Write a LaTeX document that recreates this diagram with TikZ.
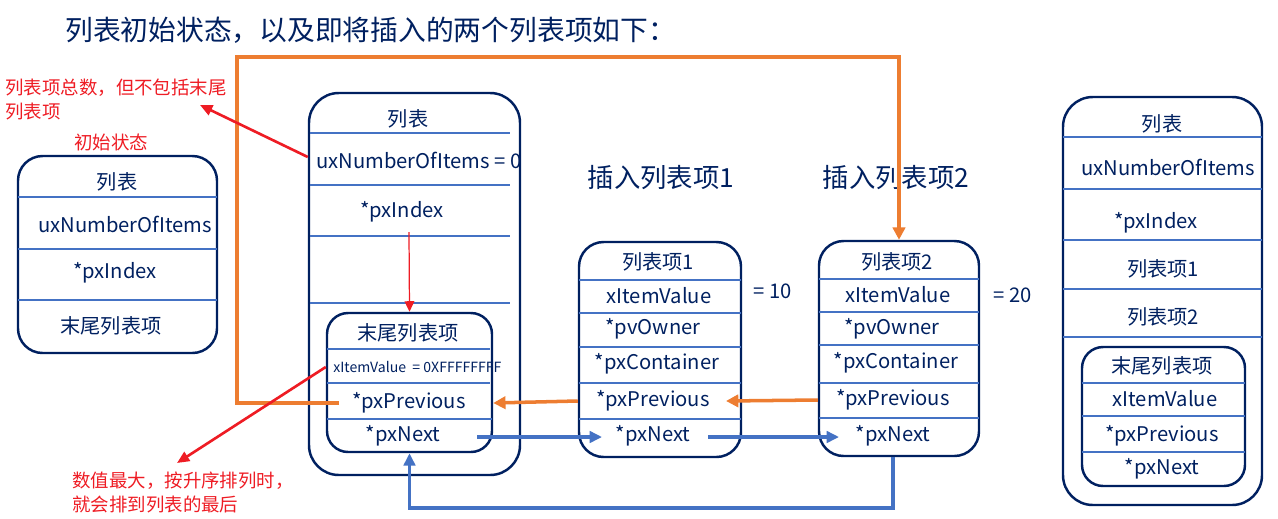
\documentclass[tikz,border=0pt]{standalone}
\usepackage{fontspec}
\setmainfont{Noto Sans CJK SC}
\usetikzlibrary{fit,arrows.meta}
\definecolor{navy}{HTML}{002060}
\definecolor{sepblue}{HTML}{4472C4}
\definecolor{orng}{HTML}{ED7D31}
\definecolor{annred}{HTML}{EE1C24}
\begin{document}
\begin{tikzpicture}[x=0.02cm,y=-0.02cm,
  box/.style={draw=navy,line width=1.4pt,rounded corners=#1,inner sep=0pt},
  sepline/.style={draw=sepblue,line width=0.6pt},
  t/.style={text=navy,font=\fontsize{11.5}{14}\selectfont,inner sep=0pt},
  tsmall/.style={text=navy,font=\fontsize{8}{10}\selectfont,inner sep=0pt},
  thead/.style={text=navy,font=\fontsize{15}{18}\selectfont,inner sep=0pt},
  ann/.style={text=annred,font=\fontsize{10.5}{13}\selectfont,inner sep=0pt},
  oline/.style={draw=orng,line width=2pt,-{Triangle[length=7pt,width=7pt]}},
  bline/.style={draw=sepblue,line width=2pt,-{Triangle[length=7pt,width=6.5pt]}},
  rline/.style={draw=annred,line width=1.5pt,-{Triangle[length=7pt,width=6pt]}},
  rthin/.style={draw=annred,line width=0.7pt,-{Triangle[length=6pt,width=5.5pt]}}]
\useasboundingbox (0,0) rectangle (1278,518);

% title and headings
\node[thead,font=\fontsize{15.8}{18}\selectfont,anchor=west] (title) at (65,30) {列表初始状态，以及即将插入的两个列表项如下：};
\node[thead] (ins1) at (661,178) {插入列表项1};
\node[thead] (ins2) at (896,178) {插入列表项2};

% annotations
\node[ann,anchor=west] (a1a) at (5,88) {列表项总数，但不包括末尾};
\node[ann,anchor=west] (a1b) at (5,112) {列表项};
\node[ann] (a2) at (111,142) {初始状态};
\node[ann,anchor=west] (a3a) at (72,481) {数值最大，按升序排列时，};
\node[ann,anchor=west] (a3b) at (72,504) {就会排到列表的最后};

% ---------- initial list (left) ----------
\node[box=14pt,fit={(18,156) (217,353)}] (L0) {};
\draw[sepline] (18,197) -- (217,197);
\draw[sepline] (18,249) -- (217,249);
\draw[sepline] (18,300) -- (217,300);
\node[t] (l0h) at (117,182) {列表};
\node[t] (l0n) at (125,224) {uxNumberOfItems};
\node[t] (l0i) at (115,273) {*pxIndex};
\node[t] (l0e) at (111,326) {末尾列表项};

% ---------- list (middle) ----------
\node[box=17pt,fit={(309,93) (520,475)}] (L1) {};
\draw[sepline] (310,133) -- (510,133);
\draw[sepline] (310,185) -- (510,185);
\draw[sepline] (310,236) -- (510,236);
\draw[sepline] (310,303) -- (510,303);
\node[t] (l1h) at (408,119) {列表};
\node[t,anchor=west] (l1n) at (316,160) {uxNumberOfItems = 0};
\node[t] (l1i) at (402,212) {*pxIndex};

% tail item inside list
\node[box=12pt,fit={(327,313) (492,452)}] (T1) {};
\draw[sepline] (327,349) -- (490,349);
\draw[sepline] (327,383) -- (490,383);
\draw[sepline] (327,419) -- (492,419);
\node[t] (t1h) at (408,333) {末尾列表项};
\node[tsmall,anchor=west] (t1v) at (333,367) {xItemValue\ \ = 0XFFFFFFFF};
\node[t] (t1p) at (409,403) {*pxPrevious};
\node[t] (t1n) at (403,436) {*pxNext};

% ---------- item 1 ----------
\node[box=14pt,fit={(579,242) (741,457)}] (I1) {};
\foreach \yy in {280,313,347,383,419} \draw[sepline] (579,\yy) -- (741,\yy);
\node[t] (i1h) at (658,262) {列表项1};
\node[t] (i1v) at (659,296) {xItemValue};
\node[t] (i1o) at (653,329) {*pvOwner};
\node[t] (i1c) at (657,364) {*pxContainer};
\node[t] (i1p) at (653,401) {*pxPrevious};
\node[t] (i1n) at (653,436) {*pxNext};
\node[t,anchor=west] (v10) at (753,291) {= 10};

% ---------- item 2 ----------
\node[box=14pt,fit={(819,241) (979,456)}] (I2) {};
\foreach \yy in {279,312,345,383,418} \draw[sepline] (819,\yy) -- (979,\yy);
\node[t] (i2h) at (897,262) {列表项2};
\node[t] (i2v) at (898,295) {xItemValue};
\node[t] (i2o) at (892,329) {*pvOwner};
\node[t] (i2c) at (896,363) {*pxContainer};
\node[t] (i2p) at (893,400) {*pxPrevious};
\node[t] (i2n) at (893,436) {*pxNext};
\node[t,anchor=west] (v20) at (993,295) {= 20};

% ---------- final list (right) ----------
\node[box=17pt,fit={(1063,97) (1262,505)}] (R) {};
\foreach \yy in {137,189,240,289,337} \draw[sepline] (1063,\yy) -- (1262,\yy);
\node[t] (rh) at (1162,124) {列表};
\node[t] (rn) at (1168,167) {uxNumberOfItems};
\node[t] (ri) at (1156,223) {*pxIndex};
\node[t] (r1) at (1163,269) {列表项1};
\node[t] (r2) at (1163,317) {列表项2};
\node[box=12pt,fit={(1082,347) (1245,486)}] (RT) {};
\foreach \yy in {383,416,452} \draw[sepline] (1082,\yy) -- (1245,\yy);
\node[t] (rth) at (1162,366) {末尾列表项};
\node[t] (rtv) at (1165,399) {xItemValue};
\node[t] (rtp) at (1162,436) {*pxPrevious};
\node[t] (rtn) at (1162,469) {*pxNext};

% ---------- connectors ----------
\coordinate (ostart) at (339,403);
\coordinate (ocorner) at (237,57);
\draw[oline] (ostart) -| (ocorner) -| (I2.north);
\coordinate (i1ptip) at (726,401);
\draw[oline] (I1.west |- i1p) -- (T1.east |- t1p);
\draw[oline] (I2.west |- i2p) -- (i1ptip);

\coordinate (tnstart) at (477,437);
\coordinate (i1ntip) at (602,437);
\coordinate (i1nstart) at (708,437);
\coordinate (i2ntip) at (839,437);
\coordinate (ybottom) at (0,508);
\draw[bline] (tnstart) -- (i1ntip);
\draw[bline] (i1nstart) -- (i2ntip);
\draw[bline] (i2n |- I2.south) |- (T1.south |- ybottom) -- (T1.south);

\coordinate (idxstart) at (409,232);
\draw[rthin] (idxstart) -- (T1.north);
\coordinate (a1tip) at (200,105);
\draw[rline] (L1.west |- 0,157) -- (a1tip);
\coordinate (a3tip) at (177,463);
\draw[rline] (T1.west |- t1v) -- (a3tip);
\end{tikzpicture}
\end{document}
